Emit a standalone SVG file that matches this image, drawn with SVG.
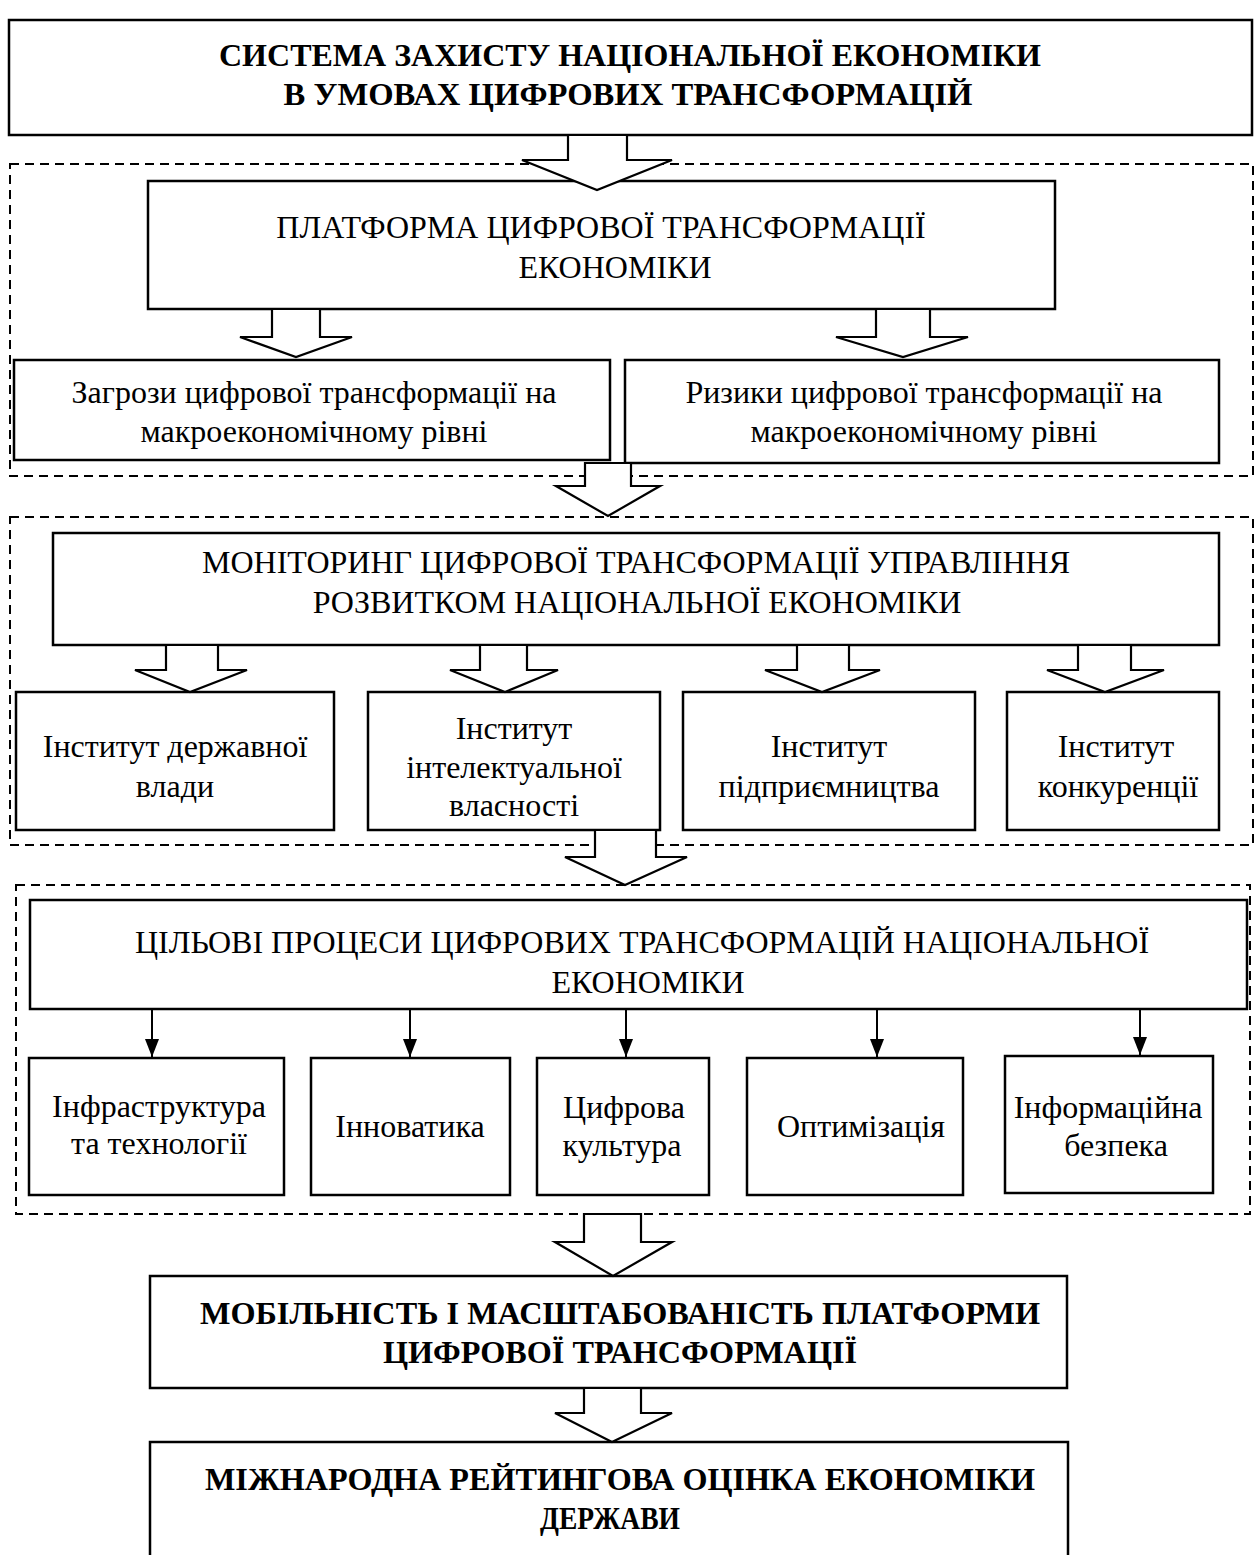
<svg xmlns="http://www.w3.org/2000/svg" width="1255" height="1555" viewBox="0 0 1255 1555">
<style>
.box{fill:#fff;stroke:#000;stroke-width:2.5}
.frame{fill:none;stroke:#000;stroke-width:2;stroke-dasharray:9 6}
.barrow{fill:#fff;stroke:#000;stroke-width:2.2;stroke-linejoin:miter}
.line{stroke:#000;stroke-width:2}
.t{font-family:"Liberation Serif","Times New Roman",serif;font-size:32px;text-anchor:middle;fill:#000}
.b{font-family:"Liberation Serif","Times New Roman",serif;font-size:32px;font-weight:bold;text-anchor:middle;fill:#000}
</style>
<defs>
<marker id="tri" markerWidth="18" markerHeight="14" refX="18" refY="7" orient="auto" markerUnits="userSpaceOnUse" viewBox="0 0 18 14">
<path d="M0,0 L18,7 L0,14 Z" fill="#000"/>
</marker>
</defs>
<rect width="1255" height="1555" fill="#fff"/>
<g id="frames">
<rect class="frame" x="10" y="164" width="1243" height="312"/>
<rect class="frame" x="10" y="517" width="1243" height="328"/>
<rect class="frame" x="16" y="885" width="1234" height="329"/>
</g>
<g id="n-top">
<rect class="box" x="9" y="20" width="1243" height="115"/>
<text class="b" x="630" y="66" textLength="822" lengthAdjust="spacingAndGlyphs">СИСТЕМА ЗАХИСТУ НАЦІОНАЛЬНОЇ ЕКОНОМІКИ</text>
<text class="b" x="628" y="105" textLength="689" lengthAdjust="spacingAndGlyphs">В УМОВАХ ЦИФРОВИХ ТРАНСФОРМАЦІЙ</text>
</g>
<g id="n-platform">
<rect class="box" x="148" y="181" width="907" height="128"/>
<text class="t" x="601" y="238">ПЛАТФОРМА ЦИФРОВОЇ ТРАНСФОРМАЦІЇ</text>
<text class="t" x="615" y="278">ЕКОНОМІКИ</text>
</g>
<g id="n-threats">
<rect class="box" x="14" y="360" width="596" height="100"/>
<text class="t" x="314" y="403">Загрози цифрової трансформації на</text>
<text class="t" x="314" y="442">макроекономічному рівні</text>
</g>
<g id="n-risks">
<rect class="box" x="625" y="360" width="594" height="103"/>
<text class="t" x="924" y="403">Ризики цифрової трансформації на</text>
<text class="t" x="924" y="442">макроекономічному рівні</text>
</g>
<g id="n-monitoring">
<rect class="box" x="53" y="533" width="1166" height="112"/>
<text class="t" x="636" y="573">МОНІТОРИНГ ЦИФРОВОЇ ТРАНСФОРМАЦІЇ УПРАВЛІННЯ</text>
<text class="t" x="637" y="613">РОЗВИТКОМ НАЦІОНАЛЬНОЇ ЕКОНОМІКИ</text>
</g>
<g id="n-inst1">
<rect class="box" x="16" y="692" width="318" height="138"/>
<text class="t" x="175" y="757">Інститут державної</text>
<text class="t" x="175" y="797">влади</text>
</g>
<g id="n-inst2">
<rect class="box" x="368" y="692" width="292" height="138"/>
<text class="t" x="514" y="739">Інститут</text>
<text class="t" x="514" y="778">інтелектуальної</text>
<text class="t" x="514" y="816">власності</text>
</g>
<g id="n-inst3">
<rect class="box" x="683" y="692" width="292" height="138"/>
<text class="t" x="829" y="757">Інститут</text>
<text class="t" x="829" y="797">підприємництва</text>
</g>
<g id="n-inst4">
<rect class="box" x="1007" y="692" width="212" height="138"/>
<text class="t" x="1116" y="757">Інститут</text>
<text class="t" x="1118" y="797">конкуренції</text>
</g>
<g id="n-target">
<rect class="box" x="30" y="900" width="1217" height="109"/>
<text class="t" x="642" y="953">ЦІЛЬОВІ ПРОЦЕСИ ЦИФРОВИХ ТРАНСФОРМАЦІЙ НАЦІОНАЛЬНОЇ</text>
<text class="t" x="648" y="993">ЕКОНОМІКИ</text>
</g>
<g id="n-infra">
<rect class="box" x="29" y="1058" width="255" height="137"/>
<text class="t" x="159" y="1117">Інфраструктура</text>
<text class="t" x="159" y="1154">та технології</text>
</g>
<g id="n-innov">
<rect class="box" x="311" y="1058" width="199" height="137"/>
<text class="t" x="410" y="1137">Інноватика</text>
</g>
<g id="n-culture">
<rect class="box" x="537" y="1058" width="172" height="137"/>
<text class="t" x="624" y="1118">Цифрова</text>
<text class="t" x="622" y="1156">культура</text>
</g>
<g id="n-optim">
<rect class="box" x="747" y="1058" width="216" height="137"/>
<text class="t" x="861" y="1137">Оптимізація</text>
</g>
<g id="n-security">
<rect class="box" x="1005" y="1056" width="208" height="137"/>
<text class="t" x="1108" y="1118">Інформаційна</text>
<text class="t" x="1116" y="1156">безпека</text>
</g>
<g id="n-mobility">
<rect class="box" x="150" y="1276" width="917" height="112"/>
<text class="b" x="620" y="1324" textLength="840" lengthAdjust="spacingAndGlyphs">МОБІЛЬНІСТЬ І МАСШТАБОВАНІСТЬ ПЛАТФОРМИ</text>
<text class="b" x="620" y="1363" textLength="474" lengthAdjust="spacingAndGlyphs">ЦИФРОВОЇ ТРАНСФОРМАЦІЇ</text>
</g>
<g id="n-rating">
<rect class="box" x="150" y="1442" width="918" height="130"/>
<text class="b" x="620" y="1490" textLength="830" lengthAdjust="spacingAndGlyphs">МІЖНАРОДНА РЕЙТИНГОВА ОЦІНКА ЕКОНОМІКИ</text>
<text class="b" x="610" y="1529" textLength="140" lengthAdjust="spacingAndGlyphs">ДЕРЖАВИ</text>
</g>
<g id="connectors">
<polygon class="barrow" points="568,135 627,135 627,160 672,160 597,190 522,160 568,160"/>
<polygon class="barrow" points="272,309 320,309 320,337 352,337 296,357 240,337 272,337"/>
<polygon class="barrow" points="876,309 930,309 930,337 968,337 903,357 836,337 876,337"/>
<polygon class="barrow" points="585,463 631,463 631,486 660,486 608,516 556,486 585,486"/>
<polygon class="barrow" points="166,645 218,645 218,670 247,670 190,692 135,670 166,670"/>
<polygon class="barrow" points="480,645 527,645 527,670 558,670 505,692 450,670 480,670"/>
<polygon class="barrow" points="797,645 849,645 849,670 880,670 822,692 765,670 797,670"/>
<polygon class="barrow" points="1078,645 1131,645 1131,670 1164,670 1105,692 1047,670 1078,670"/>
<polygon class="barrow" points="595,830 656,830 656,857 687,857 625,885 565,857 595,857"/>
<polygon class="barrow" points="584,1214 641,1214 641,1242 672,1242 613,1276 555,1242 584,1242"/>
<polygon class="barrow" points="584,1388 641,1388 641,1413 672,1413 612,1442 555,1413 584,1413"/>
<line class="line" x1="152" y1="1009" x2="152" y2="1057" marker-end="url(#tri)"/>
<line class="line" x1="410" y1="1009" x2="410" y2="1057" marker-end="url(#tri)"/>
<line class="line" x1="626" y1="1009" x2="626" y2="1057" marker-end="url(#tri)"/>
<line class="line" x1="877" y1="1009" x2="877" y2="1057" marker-end="url(#tri)"/>
<line class="line" x1="1140" y1="1009" x2="1140" y2="1055" marker-end="url(#tri)"/>
</g>
</svg>
